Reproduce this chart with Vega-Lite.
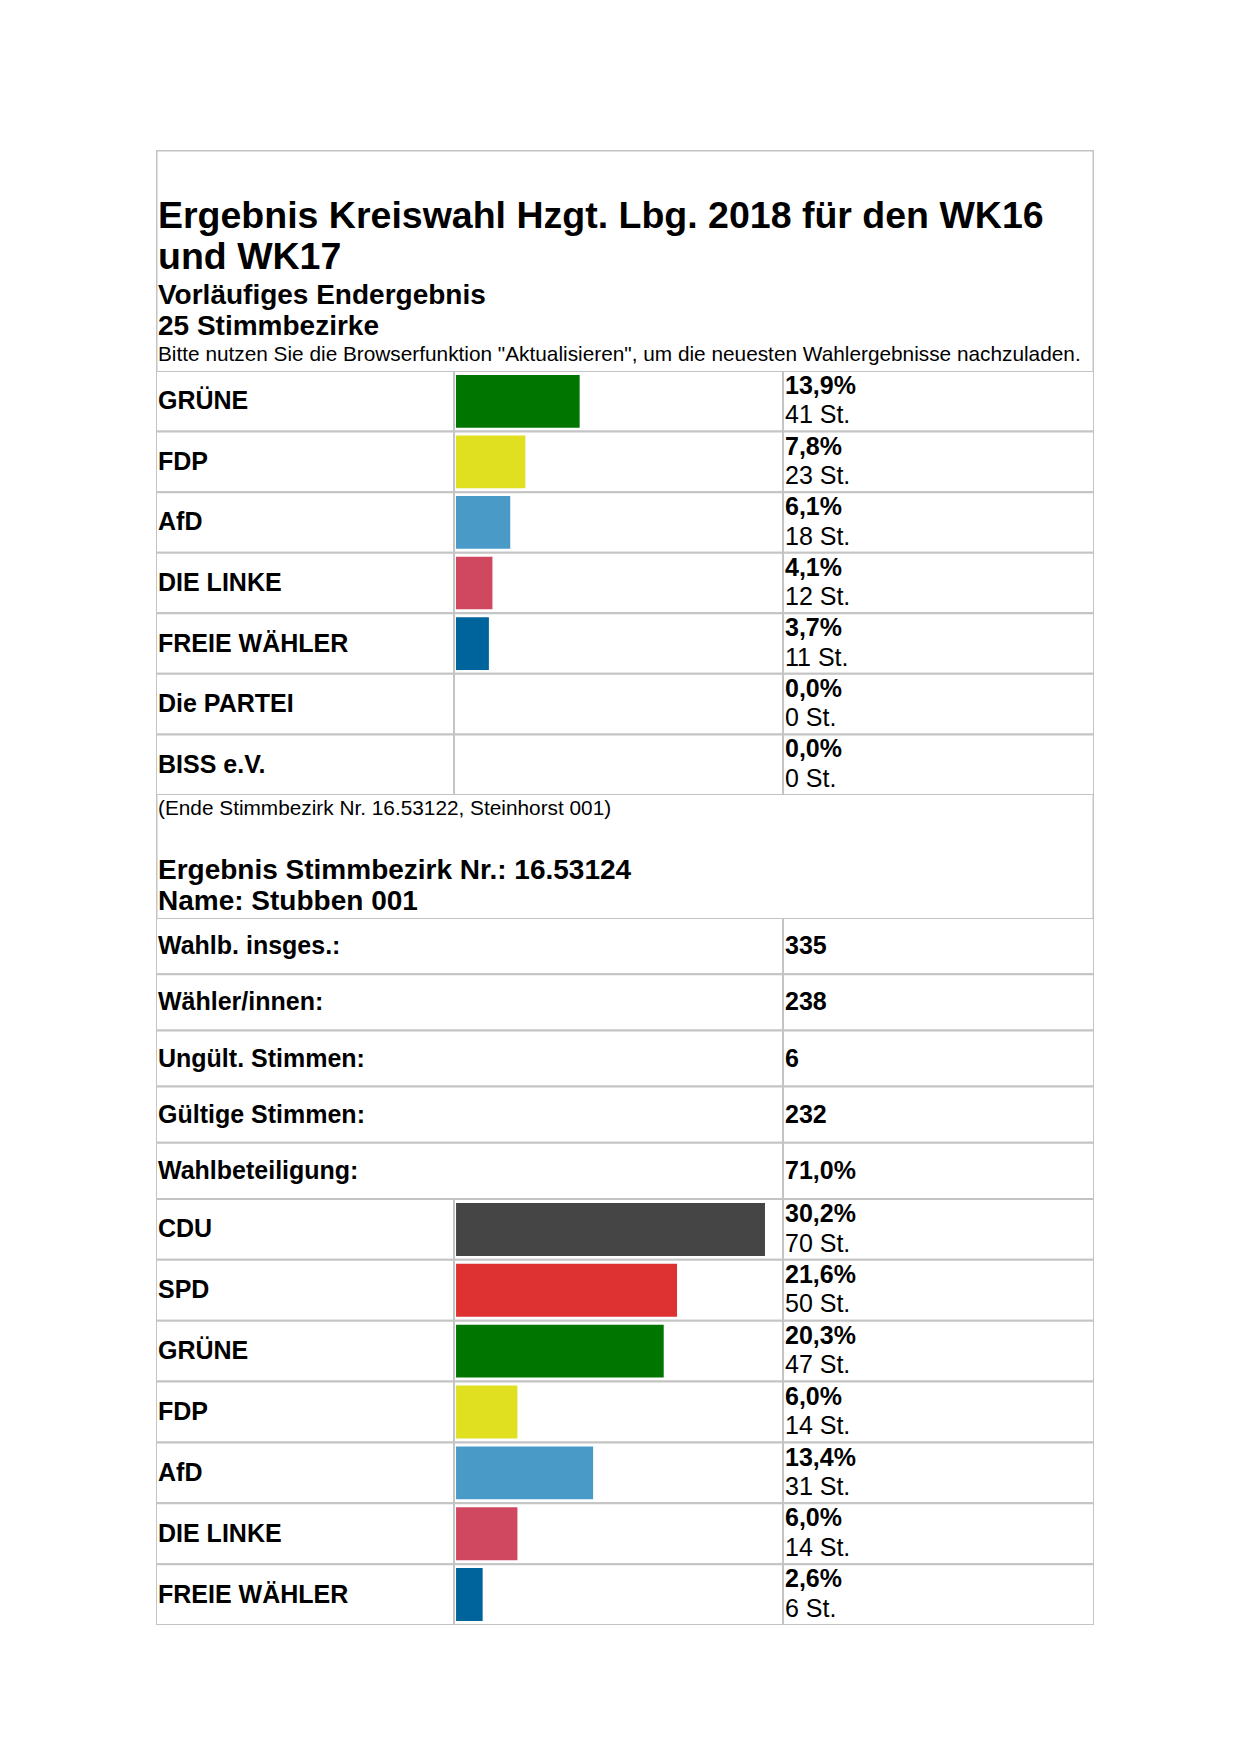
{
  "$schema": "https://vega.github.io/schema/vega-lite/v6.json",
  "background": "white",
  "padding": {"left": 156, "top": 150, "right": 0, "bottom": 0},
  "spacing": 0,
  "config": {
    "view": {"stroke": null},
    "font": "Liberation Sans",
    "concat": {"spacing": 0},
    "locale": {"number": {"decimal": ",", "thousands": ".", "grouping": [3], "currency": ["", " St."]}}
  },
  "datasets": {
    "header": [
      {"block": "title1", "text": "Ergebnis Kreiswahl Hzgt. Lbg. 2018 für den WK16"},
      {"block": "title2", "text": "und WK17"},
      {"block": "sub1", "text": "Vorläufiges Endergebnis"},
      {"block": "sub2", "text": "25 Stimmbezirke"},
      {"block": "note", "text": "Bitte nutzen Sie die Browserfunktion \"Aktualisieren\", um die neuesten Wahlergebnisse nachzuladen."},
      {"block": "end", "text": "(Ende Stimmbezirk Nr. 16.53122, Steinhorst 001)"},
      {"block": "district1", "text": "Ergebnis Stimmbezirk Nr.: 16.53124"},
      {"block": "district2", "text": "Name: Stubben 001"}
    ],
    "sec1": [
      {"party": "GRÜNE", "share": 0.139, "votes": 41},
      {"party": "FDP", "share": 0.078, "votes": 23},
      {"party": "AfD", "share": 0.061, "votes": 18},
      {"party": "DIE LINKE", "share": 0.041, "votes": 12},
      {"party": "FREIE WÄHLER", "share": 0.037, "votes": 11},
      {"party": "Die PARTEI", "share": 0.0, "votes": 0},
      {"party": "BISS e.V.", "share": 0.0, "votes": 0}
    ],
    "info": [
      {"label": "Wahlb. insges.:", "value": 335, "kind": "count"},
      {"label": "Wähler/innen:", "value": 238, "kind": "count"},
      {"label": "Ungült. Stimmen:", "value": 6, "kind": "count"},
      {"label": "Gültige Stimmen:", "value": 232, "kind": "count"},
      {"label": "Wahlbeteiligung:", "value": 0.71, "kind": "share"}
    ],
    "sec2": [
      {"party": "CDU", "share": 0.302, "votes": 70},
      {"party": "SPD", "share": 0.216, "votes": 50},
      {"party": "GRÜNE", "share": 0.203, "votes": 47},
      {"party": "FDP", "share": 0.06, "votes": 14},
      {"party": "AfD", "share": 0.134, "votes": 31},
      {"party": "DIE LINKE", "share": 0.06, "votes": 14},
      {"party": "FREIE WÄHLER", "share": 0.026, "votes": 6}
    ]
  },
  "vconcat": [
    {
      "width": 938, "height": 45,
      "data": {"name": "header"},
      "transform": [{"filter": "datum.block === 'title1'"}],
      "layer": [
        {"mark": {"type": "rule", "color": "#c4c4c4", "strokeWidth": 3, "clip": true}, "encoding": {"x": {"datum": 0, "type": "quantitative", "scale": {"domain": [0, 1]}, "axis": null}}},
        {"mark": {"type": "rule", "color": "#c4c4c4", "strokeWidth": 3, "clip": true}, "encoding": {"x": {"datum": 1, "type": "quantitative", "scale": {"domain": [0, 1]}, "axis": null}}},
        {"mark": {"type": "rule", "color": "#c4c4c4", "strokeWidth": 3, "clip": true}, "encoding": {"y": {"datum": 1, "type": "quantitative", "scale": {"domain": [0, 1]}, "axis": null}}}
      ]
    },
    {
      "width": 938, "height": 43,
      "data": {"name": "header"},
      "transform": [{"filter": "datum.block === 'title1'"}],
      "layer": [
        {"mark": {"type": "rule", "color": "#c4c4c4", "strokeWidth": 3, "clip": true}, "encoding": {"x": {"datum": 0, "type": "quantitative", "scale": {"domain": [0, 1]}, "axis": null}}},
        {"mark": {"type": "rule", "color": "#c4c4c4", "strokeWidth": 3, "clip": true}, "encoding": {"x": {"datum": 1, "type": "quantitative", "scale": {"domain": [0, 1]}, "axis": null}}},
        {"mark": {"type": "text", "align": "left", "baseline": "middle", "dx": 2, "fontSize": 37.5, "fontWeight": "bold", "clip": true},
         "encoding": {"x": {"datum": 0, "type": "quantitative", "scale": {"domain": [0, 1]}, "axis": null}, "text": {"field": "text"}}}
      ]
    },
    {
      "width": 938, "height": 40,
      "data": {"name": "header"},
      "transform": [{"filter": "datum.block === 'title2'"}],
      "layer": [
        {"mark": {"type": "rule", "color": "#c4c4c4", "strokeWidth": 3, "clip": true}, "encoding": {"x": {"datum": 0, "type": "quantitative", "scale": {"domain": [0, 1]}, "axis": null}}},
        {"mark": {"type": "rule", "color": "#c4c4c4", "strokeWidth": 3, "clip": true}, "encoding": {"x": {"datum": 1, "type": "quantitative", "scale": {"domain": [0, 1]}, "axis": null}}},
        {"mark": {"type": "text", "align": "left", "baseline": "middle", "dx": 2, "fontSize": 37.5, "fontWeight": "bold", "clip": true},
         "encoding": {"x": {"datum": 0, "type": "quantitative", "scale": {"domain": [0, 1]}, "axis": null}, "text": {"field": "text"}}}
      ]
    },
    {
      "width": 938, "height": 36,
      "data": {"name": "header"},
      "transform": [{"filter": "datum.block === 'sub1'"}],
      "layer": [
        {"mark": {"type": "rule", "color": "#c4c4c4", "strokeWidth": 3, "clip": true}, "encoding": {"x": {"datum": 0, "type": "quantitative", "scale": {"domain": [0, 1]}, "axis": null}}},
        {"mark": {"type": "rule", "color": "#c4c4c4", "strokeWidth": 3, "clip": true}, "encoding": {"x": {"datum": 1, "type": "quantitative", "scale": {"domain": [0, 1]}, "axis": null}}},
        {"mark": {"type": "text", "align": "left", "baseline": "middle", "dx": 2, "fontSize": 28, "fontWeight": "bold", "clip": true},
         "encoding": {"x": {"datum": 0, "type": "quantitative", "scale": {"domain": [0, 1]}, "axis": null}, "text": {"field": "text"}}}
      ]
    },
    {
      "width": 938, "height": 26,
      "data": {"name": "header"},
      "transform": [{"filter": "datum.block === 'sub2'"}],
      "layer": [
        {"mark": {"type": "rule", "color": "#c4c4c4", "strokeWidth": 3, "clip": true}, "encoding": {"x": {"datum": 0, "type": "quantitative", "scale": {"domain": [0, 1]}, "axis": null}}},
        {"mark": {"type": "rule", "color": "#c4c4c4", "strokeWidth": 3, "clip": true}, "encoding": {"x": {"datum": 1, "type": "quantitative", "scale": {"domain": [0, 1]}, "axis": null}}},
        {"mark": {"type": "text", "align": "left", "baseline": "middle", "dx": 2, "fontSize": 28, "fontWeight": "bold", "clip": true},
         "encoding": {"x": {"datum": 0, "type": "quantitative", "scale": {"domain": [0, 1]}, "axis": null}, "text": {"field": "text"}}}
      ]
    },
    {
      "width": 938, "height": 31,
      "data": {"name": "header"},
      "transform": [{"filter": "datum.block === 'note'"}],
      "layer": [
        {"mark": {"type": "rule", "color": "#c4c4c4", "strokeWidth": 3, "clip": true}, "encoding": {"x": {"datum": 0, "type": "quantitative", "scale": {"domain": [0, 1]}, "axis": null}}},
        {"mark": {"type": "rule", "color": "#c4c4c4", "strokeWidth": 3, "clip": true}, "encoding": {"x": {"datum": 1, "type": "quantitative", "scale": {"domain": [0, 1]}, "axis": null}}},
        {"mark": {"type": "text", "align": "left", "baseline": "middle", "dx": 2, "dy": -1, "fontSize": 20.8, "clip": true},
         "encoding": {"x": {"datum": 0, "type": "quantitative", "scale": {"domain": [0, 1]}, "axis": null}, "text": {"field": "text"}}}
      ]
    },
    {
      "spacing": 0,
      "hconcat": [
        {
          "width": 298, "height": 424,
          "data": {"name": "sec1"},
          "layer": [
            {"mark": {"type": "rect", "fill": "white", "stroke": "#c4c4c4", "strokeWidth": 2, "clip": true},
             "encoding": {
               "y": {"field": "party", "type": "nominal", "scale": {"domain": ["GRÜNE", "FDP", "AfD", "DIE LINKE", "FREIE WÄHLER", "Die PARTEI", "BISS e.V."], "paddingInner": 0, "paddingOuter": 0}, "axis": null},
               "x": {"datum": 0, "type": "quantitative", "scale": {"domain": [0, 1]}, "axis": null},
               "x2": {"datum": 1}}},
            {"mark": {"type": "text", "align": "left", "baseline": "middle", "dx": 2, "fontSize": 25, "fontWeight": "bold", "clip": true},
             "encoding": {
               "y": {"field": "party", "type": "nominal", "axis": null},
               "x": {"datum": 0, "type": "quantitative", "scale": {"domain": [0, 1]}, "axis": null},
               "text": {"field": "party"}}}
          ]
        },
        {
          "width": 329, "height": 424,
          "data": {"name": "sec1"},
          "layer": [
            {"mark": {"type": "rect", "fill": "white", "stroke": "#c4c4c4", "strokeWidth": 2, "clip": true},
             "encoding": {
               "y": {"field": "party", "type": "nominal", "scale": {"domain": ["GRÜNE", "FDP", "AfD", "DIE LINKE", "FREIE WÄHLER", "Die PARTEI", "BISS e.V."], "paddingInner": 0, "paddingOuter": 0}, "axis": null},
               "x": {"datum": -0.0022, "type": "quantitative", "scale": {"domain": [-0.0022, 0.3675]}, "axis": null},
               "x2": {"datum": 0.3675}}},
            {"mark": {"type": "bar", "height": {"band": 0.87}, "clip": true},
             "encoding": {
               "y": {"field": "party", "type": "nominal", "axis": null},
               "x": {"field": "share", "type": "quantitative", "scale": {"domain": [-0.0022, 0.3675]}, "axis": null},
               "color": {"field": "party", "type": "nominal", "legend": null,
                 "scale": {"domain": ["CDU", "SPD", "GRÜNE", "FDP", "AfD", "DIE LINKE", "FREIE WÄHLER", "Die PARTEI", "BISS e.V."],
                           "range": ["#454545", "#de3232", "#007600", "#e0e020", "#4a9ac8", "#d04860", "#00649c", "#888888", "#888888"]}}}}
          ]
        },
        {
          "width": 311, "height": 424,
          "data": {"name": "sec1"},
          "layer": [
            {"mark": {"type": "rect", "fill": "white", "stroke": "#c4c4c4", "strokeWidth": 2, "clip": true},
             "encoding": {
               "y": {"field": "party", "type": "nominal", "scale": {"domain": ["GRÜNE", "FDP", "AfD", "DIE LINKE", "FREIE WÄHLER", "Die PARTEI", "BISS e.V."], "paddingInner": 0, "paddingOuter": 0}, "axis": null},
               "x": {"datum": 0, "type": "quantitative", "scale": {"domain": [0, 1]}, "axis": null},
               "x2": {"datum": 1}}},
            {"mark": {"type": "text", "align": "left", "baseline": "alphabetic", "dx": 2, "fontSize": 25, "fontWeight": "bold", "clip": true},
             "encoding": {
               "y": {"field": "party", "type": "nominal", "bandPosition": 0.38, "axis": null},
               "x": {"datum": 0, "type": "quantitative", "scale": {"domain": [0, 1]}, "axis": null},
               "text": {"field": "share", "type": "quantitative", "format": ".1%"}}},
            {"mark": {"type": "text", "align": "left", "baseline": "alphabetic", "dx": 2, "fontSize": 25, "clip": true},
             "encoding": {
               "y": {"field": "party", "type": "nominal", "bandPosition": 0.865, "axis": null},
               "x": {"datum": 0, "type": "quantitative", "scale": {"domain": [0, 1]}, "axis": null},
               "text": {"field": "votes", "type": "quantitative", "format": "$d"}}}
          ]
        }
      ]
    },
    {
      "width": 938, "height": 28,
      "data": {"name": "header"},
      "transform": [{"filter": "datum.block === 'end'"}],
      "layer": [
        {"mark": {"type": "rule", "color": "#c4c4c4", "strokeWidth": 3, "clip": true}, "encoding": {"x": {"datum": 0, "type": "quantitative", "scale": {"domain": [0, 1]}, "axis": null}}},
        {"mark": {"type": "rule", "color": "#c4c4c4", "strokeWidth": 3, "clip": true}, "encoding": {"x": {"datum": 1, "type": "quantitative", "scale": {"domain": [0, 1]}, "axis": null}}},
        {"mark": {"type": "text", "align": "left", "baseline": "middle", "dx": 2, "fontSize": 20.8, "clip": true},
         "encoding": {"x": {"datum": 0, "type": "quantitative", "scale": {"domain": [0, 1]}, "axis": null}, "text": {"field": "text"}}}
      ]
    },
    {
      "width": 938, "height": 33,
      "data": {"name": "header"},
      "transform": [{"filter": "datum.block === 'end'"}],
      "layer": [
        {"mark": {"type": "rule", "color": "#c4c4c4", "strokeWidth": 3, "clip": true}, "encoding": {"x": {"datum": 0, "type": "quantitative", "scale": {"domain": [0, 1]}, "axis": null}}},
        {"mark": {"type": "rule", "color": "#c4c4c4", "strokeWidth": 3, "clip": true}, "encoding": {"x": {"datum": 1, "type": "quantitative", "scale": {"domain": [0, 1]}, "axis": null}}}
      ]
    },
    {
      "width": 938, "height": 30,
      "data": {"name": "header"},
      "transform": [{"filter": "datum.block === 'district1'"}],
      "layer": [
        {"mark": {"type": "rule", "color": "#c4c4c4", "strokeWidth": 3, "clip": true}, "encoding": {"x": {"datum": 0, "type": "quantitative", "scale": {"domain": [0, 1]}, "axis": null}}},
        {"mark": {"type": "rule", "color": "#c4c4c4", "strokeWidth": 3, "clip": true}, "encoding": {"x": {"datum": 1, "type": "quantitative", "scale": {"domain": [0, 1]}, "axis": null}}},
        {"mark": {"type": "text", "align": "left", "baseline": "middle", "dx": 2, "fontSize": 28, "fontWeight": "bold", "clip": true},
         "encoding": {"x": {"datum": 0, "type": "quantitative", "scale": {"domain": [0, 1]}, "axis": null}, "text": {"field": "text"}}}
      ]
    },
    {
      "width": 938, "height": 32,
      "data": {"name": "header"},
      "transform": [{"filter": "datum.block === 'district2'"}],
      "layer": [
        {"mark": {"type": "rule", "color": "#c4c4c4", "strokeWidth": 3, "clip": true}, "encoding": {"x": {"datum": 0, "type": "quantitative", "scale": {"domain": [0, 1]}, "axis": null}}},
        {"mark": {"type": "rule", "color": "#c4c4c4", "strokeWidth": 3, "clip": true}, "encoding": {"x": {"datum": 1, "type": "quantitative", "scale": {"domain": [0, 1]}, "axis": null}}},
        {"mark": {"type": "text", "align": "left", "baseline": "middle", "dx": 2, "fontSize": 28, "fontWeight": "bold", "clip": true},
         "encoding": {"x": {"datum": 0, "type": "quantitative", "scale": {"domain": [0, 1]}, "axis": null}, "text": {"field": "text"}}}
      ]
    },
    {
      "spacing": 0,
      "hconcat": [
        {
          "width": 627, "height": 281,
          "data": {"name": "info"},
          "layer": [
            {"mark": {"type": "rect", "fill": "white", "stroke": "#c4c4c4", "strokeWidth": 2, "clip": true},
             "encoding": {
               "y": {"field": "label", "type": "nominal", "scale": {"domain": ["Wahlb. insges.:", "Wähler/innen:", "Ungült. Stimmen:", "Gültige Stimmen:", "Wahlbeteiligung:"], "paddingInner": 0, "paddingOuter": 0}, "axis": null},
               "x": {"datum": 0, "type": "quantitative", "scale": {"domain": [0, 1]}, "axis": null},
               "x2": {"datum": 1}}},
            {"mark": {"type": "text", "align": "left", "baseline": "middle", "dx": 2, "fontSize": 25, "fontWeight": "bold", "clip": true},
             "encoding": {
               "y": {"field": "label", "type": "nominal", "axis": null},
               "x": {"datum": 0, "type": "quantitative", "scale": {"domain": [0, 1]}, "axis": null},
               "text": {"field": "label"}}}
          ]
        },
        {
          "width": 311, "height": 281,
          "data": {"name": "info"},
          "layer": [
            {"mark": {"type": "rect", "fill": "white", "stroke": "#c4c4c4", "strokeWidth": 2, "clip": true},
             "encoding": {
               "y": {"field": "label", "type": "nominal", "scale": {"domain": ["Wahlb. insges.:", "Wähler/innen:", "Ungült. Stimmen:", "Gültige Stimmen:", "Wahlbeteiligung:"], "paddingInner": 0, "paddingOuter": 0}, "axis": null},
               "x": {"datum": 0, "type": "quantitative", "scale": {"domain": [0, 1]}, "axis": null},
               "x2": {"datum": 1}}},
            {"transform": [{"filter": "datum.kind === 'count'"}],
             "mark": {"type": "text", "align": "left", "baseline": "middle", "dx": 2, "fontSize": 25, "fontWeight": "bold", "clip": true},
             "encoding": {
               "y": {"field": "label", "type": "nominal", "axis": null},
               "x": {"datum": 0, "type": "quantitative", "scale": {"domain": [0, 1]}, "axis": null},
               "text": {"field": "value", "type": "quantitative", "format": "d"}}},
            {"transform": [{"filter": "datum.kind === 'share'"}],
             "mark": {"type": "text", "align": "left", "baseline": "middle", "dx": 2, "fontSize": 25, "fontWeight": "bold", "clip": true},
             "encoding": {
               "y": {"field": "label", "type": "nominal", "axis": null},
               "x": {"datum": 0, "type": "quantitative", "scale": {"domain": [0, 1]}, "axis": null},
               "text": {"field": "value", "type": "quantitative", "format": ".1%"}}}
          ]
        }
      ]
    },
    {
      "spacing": 0,
      "hconcat": [
        {
          "width": 298, "height": 426,
          "data": {"name": "sec2"},
          "layer": [
            {"mark": {"type": "rect", "fill": "white", "stroke": "#c4c4c4", "strokeWidth": 2, "clip": true},
             "encoding": {
               "y": {"field": "party", "type": "nominal", "scale": {"domain": ["CDU", "SPD", "GRÜNE", "FDP", "AfD", "DIE LINKE", "FREIE WÄHLER"], "paddingInner": 0, "paddingOuter": 0}, "axis": null},
               "x": {"datum": 0, "type": "quantitative", "scale": {"domain": [0, 1]}, "axis": null},
               "x2": {"datum": 1}}},
            {"mark": {"type": "text", "align": "left", "baseline": "middle", "dx": 2, "fontSize": 25, "fontWeight": "bold", "clip": true},
             "encoding": {
               "y": {"field": "party", "type": "nominal", "axis": null},
               "x": {"datum": 0, "type": "quantitative", "scale": {"domain": [0, 1]}, "axis": null},
               "text": {"field": "party"}}}
          ]
        },
        {
          "width": 329, "height": 426,
          "data": {"name": "sec2"},
          "layer": [
            {"mark": {"type": "rect", "fill": "white", "stroke": "#c4c4c4", "strokeWidth": 2, "clip": true},
             "encoding": {
               "y": {"field": "party", "type": "nominal", "scale": {"domain": ["CDU", "SPD", "GRÜNE", "FDP", "AfD", "DIE LINKE", "FREIE WÄHLER"], "paddingInner": 0, "paddingOuter": 0}, "axis": null},
               "x": {"datum": -0.002, "type": "quantitative", "scale": {"domain": [-0.002, 0.3196]}, "axis": null},
               "x2": {"datum": 0.3196}}},
            {"mark": {"type": "bar", "height": {"band": 0.87}, "clip": true},
             "encoding": {
               "y": {"field": "party", "type": "nominal", "axis": null},
               "x": {"field": "share", "type": "quantitative", "scale": {"domain": [-0.002, 0.3196]}, "axis": null},
               "color": {"field": "party", "type": "nominal", "legend": null,
                 "scale": {"domain": ["CDU", "SPD", "GRÜNE", "FDP", "AfD", "DIE LINKE", "FREIE WÄHLER", "Die PARTEI", "BISS e.V."],
                           "range": ["#454545", "#de3232", "#007600", "#e0e020", "#4a9ac8", "#d04860", "#00649c", "#888888", "#888888"]}}}}
          ]
        },
        {
          "width": 311, "height": 426,
          "data": {"name": "sec2"},
          "layer": [
            {"mark": {"type": "rect", "fill": "white", "stroke": "#c4c4c4", "strokeWidth": 2, "clip": true},
             "encoding": {
               "y": {"field": "party", "type": "nominal", "scale": {"domain": ["CDU", "SPD", "GRÜNE", "FDP", "AfD", "DIE LINKE", "FREIE WÄHLER"], "paddingInner": 0, "paddingOuter": 0}, "axis": null},
               "x": {"datum": 0, "type": "quantitative", "scale": {"domain": [0, 1]}, "axis": null},
               "x2": {"datum": 1}}},
            {"mark": {"type": "text", "align": "left", "baseline": "alphabetic", "dx": 2, "fontSize": 25, "fontWeight": "bold", "clip": true},
             "encoding": {
               "y": {"field": "party", "type": "nominal", "bandPosition": 0.38, "axis": null},
               "x": {"datum": 0, "type": "quantitative", "scale": {"domain": [0, 1]}, "axis": null},
               "text": {"field": "share", "type": "quantitative", "format": ".1%"}}},
            {"mark": {"type": "text", "align": "left", "baseline": "alphabetic", "dx": 2, "fontSize": 25, "clip": true},
             "encoding": {
               "y": {"field": "party", "type": "nominal", "bandPosition": 0.865, "axis": null},
               "x": {"datum": 0, "type": "quantitative", "scale": {"domain": [0, 1]}, "axis": null},
               "text": {"field": "votes", "type": "quantitative", "format": "$d"}}}
          ]
        }
      ]
    }
  ]
}
